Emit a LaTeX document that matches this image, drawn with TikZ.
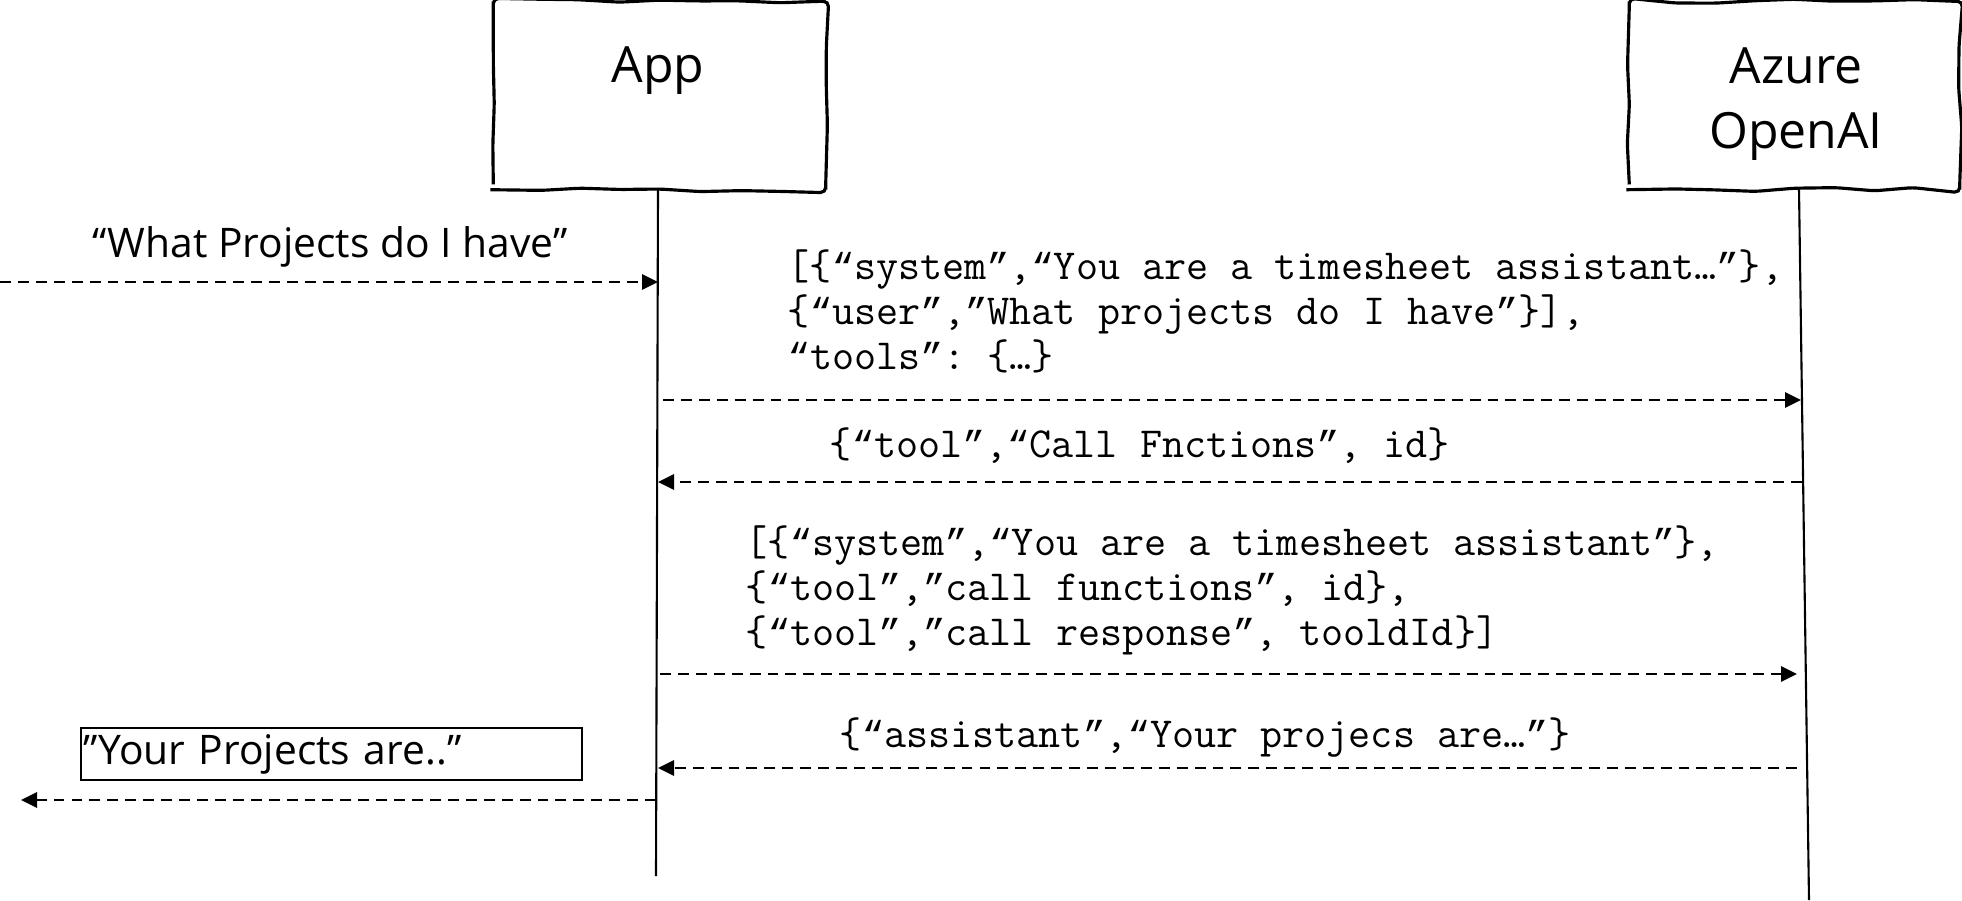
\documentclass[tikz,border=0pt]{standalone}
\usepackage{fontspec}
\setmainfont{Open Sans}
\newfontfamily\quotemono[Scale=0.875]{Liberation Mono}
\newcommand{\oq}{{\quotemono“}}
\newcommand{\cq}{{\quotemono”}}
\usetikzlibrary{arrows.meta,decorations.pathmorphing}

\begin{document}
\begin{tikzpicture}[
        lifebox/.style = {inner sep=0pt},
        sketch/.style = {line width=0.9pt, decorate,
            decoration={random steps, segment length=4mm, amplitude=0.6pt},
            rounded corners=1.5pt},
        title/.style = {font=\fontsize{14.2}{18.4}\selectfont, align=center, inner sep=0pt},
        say/.style = {font=\fontsize{11.6}{14}\selectfont, inner sep=0pt},
        payload/.style = {font=\fontsize{12.2}{12.8}\selectfont\ttfamily\frenchspacing,
            align=left, anchor=west, inner sep=0pt},
        msg/.style = {dash pattern=on 3.1pt off 2pt, line width=0.8pt,
            -{Triangle[length=0.16cm, width=0.15cm]}},
        lifeline/.style = {line width=0.6pt}
    ]
        \pgfmathsetseed{7}
        \useasboundingbox (0,0) rectangle (19.62,-9.00);

        \node[lifebox, minimum width=3.31cm, minimum height=1.87cm] (app) at (6.595,-0.955) {};
        \node[lifebox, minimum width=3.29cm, minimum height=1.87cm] (azure) at (17.945,-0.955) {};
        \draw[sketch] (app.south west) rectangle (app.north east);
        \draw[sketch] (azure.south west) rectangle (azure.north east);
        \node[title] (appname) at (6.58,-0.71) {App};
        \node[title] (azurename) at (17.96,-1.04) {Azure\\OpenAI};

        \coordinate (apptop) at (6.58,-1.89);
        \coordinate (append) at (6.56,-8.76);
        \coordinate (azuretop) at (17.99,-1.89);
        \coordinate (azureend) at (18.09,-9.00);
        \draw[lifeline] (apptop) -- (append);
        \draw[lifeline] (azuretop) -- (azureend);

        \coordinate (user1) at (0,-2.82);
        \coordinate (app1) at (6.58,-2.82);
        \coordinate (app2) at (6.63,-4.00);
        \coordinate (azure2) at (18.01,-4.00);
        \coordinate (azure3) at (18.02,-4.82);
        \coordinate (app3) at (6.58,-4.82);
        \coordinate (app4) at (6.60,-6.74);
        \coordinate (azure4) at (17.97,-6.74);
        \coordinate (azure5) at (17.97,-7.68);
        \coordinate (app5) at (6.58,-7.68);
        \coordinate (app6) at (6.56,-8.00);
        \coordinate (user6) at (0.21,-8.00);

        \node[say] (ask) at (3.30,-2.47) {“What Projects do I have”};
        \node[payload] (req1) at (7.87,-3.11)
            {[\{\oq system\cq,\oq You are a timesheet assistant…\cq\},\\
             \{\oq user\cq,\cq What projects do I have\cq\}],\\
             \oq tools\cq: \{…\}};
        \node[payload] (call) at (8.29,-4.46) {\{\oq tool\cq,\oq Call Fnctions\cq, id\}};
        \node[payload] (req2) at (7.45,-5.90)
            {[\{\oq system\cq,\oq You are a timesheet assistant\cq\},\\
             \{\oq tool\cq,\cq call functions\cq, id\},\\
             \{\oq tool\cq,\cq call response\cq, tooldId\}]};
        \node[payload] (answer) at (8.39,-7.37) {\{\oq assistant\cq,\oq Your projecs are…\cq\}};
        \node[say, draw, line width=0.6pt, minimum width=5.01cm, minimum height=0.52cm,
            text width=4.95cm, inner xsep=0.03cm, align=left] (reply) at (3.315,-7.54)
            {”Your Projects are..”};

        \draw[msg] (user1) -- (app1);
        \draw[msg] (app2) -- (azure2);
        \draw[msg] (azure3) -- (app3);
        \draw[msg] (app4) -- (azure4);
        \draw[msg] (azure5) -- (app5);
        \draw[msg] (app6) -- (user6);
\end{tikzpicture}
\end{document}
